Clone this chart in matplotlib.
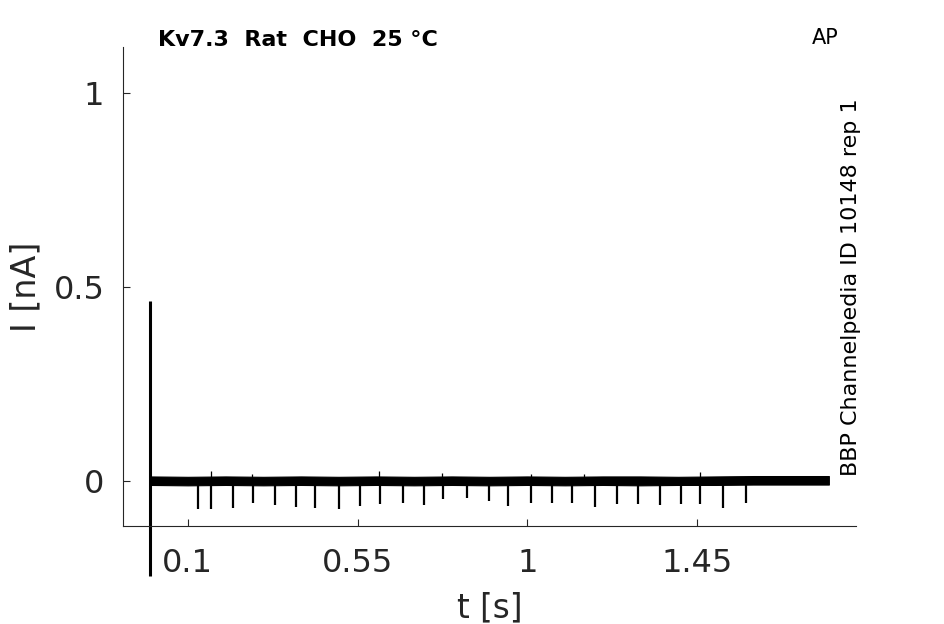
import matplotlib
matplotlib.use("Agg")
import matplotlib.pyplot as plt
import numpy as np

# ---- data ----
x_ticks = [0.1, 0.55, 1.0, 1.45]
x_ticklabels = ["0.1", "0.55", "1", "1.45"]
y_ticks = [0.0, 0.5, 1.0]
y_ticklabels = ["0", "0.5", "1"]

# noise band envelope of the baseline trace (nA)
band_t = [0.0, 0.1, 0.2, 0.3, 0.4, 0.5, 0.6, 0.7, 0.8, 0.9, 1.0, 1.1, 1.2,
          1.3, 1.4, 1.5, 1.6, 1.7, 1.8]
band_hi = [0.011, 0.010, 0.011, 0.010, 0.011, 0.010, 0.011, 0.010, 0.011,
           0.010, 0.011, 0.010, 0.011, 0.011, 0.010, 0.011, 0.012, 0.012, 0.012]
band_lo = [-0.011, -0.012, -0.011, -0.012, -0.011, -0.012, -0.011, -0.012,
           -0.011, -0.012, -0.011, -0.012, -0.011, -0.012, -0.011, -0.011,
           -0.010, -0.010, -0.010]

# downward spikes (time s, depth nA)
spike_t = [0.128, 0.161, 0.219, 0.273, 0.331, 0.386, 0.438, 0.501, 0.557,
           0.610, 0.670, 0.726, 0.777, 0.841, 0.898, 0.949, 1.010, 1.066,
           1.119, 1.181, 1.238, 1.295, 1.353, 1.408, 1.459, 1.520, 1.579]
spike_i = [-0.073, -0.073, -0.070, -0.057, -0.062, -0.067, -0.070, -0.073,
           -0.065, -0.060, -0.057, -0.062, -0.047, -0.044, -0.052, -0.065,
           -0.057, -0.057, -0.057, -0.067, -0.060, -0.060, -0.062, -0.060,
           -0.060, -0.070, -0.057]

# small upward spikes
up_t = [0.161, 0.270, 0.607, 0.775, 1.010, 1.150, 1.458]
up_i = [0.026, 0.018, 0.024, 0.020, 0.018, 0.017, 0.022]

# capacitive transient at t = 0
trans_t = 0.0
trans_top = 0.465
trans_bot = -0.246

xlim = (-0.072, 1.872)
ylim = (-0.117, 1.12)

# ---- figure ----
fig = plt.figure(figsize=(9.45, 6.24), dpi=100)
ax = fig.add_axes([123 / 945, 1 - 526 / 624, (856 - 123) / 945, (526 - 47) / 624])

ax.fill_between(band_t, band_lo, band_hi, color="black", lw=0.8, edgecolor="black")
ax.vlines(spike_t, 0, spike_i, color="black", lw=1.6)
ax.vlines(up_t, 0, up_i, color="black", lw=0.9)
ax.vlines([trans_t], trans_bot, trans_top, color="black", lw=2.2, clip_on=False)

ax.set_xlim(*xlim)
ax.set_ylim(*ylim)
ax.set_xticks(x_ticks)
ax.set_xticklabels(x_ticklabels)
ax.set_yticks(y_ticks)
ax.set_yticklabels(y_ticklabels)

for s in ["top", "right"]:
    ax.spines[s].set_visible(False)
for s in ["left", "bottom"]:
    ax.spines[s].set_color("#262626")
    ax.spines[s].set_linewidth(0.8)

ax.tick_params(direction="in", length=5, width=0.8, colors="#262626",
               labelsize=23)
ax.tick_params(axis="x", pad=15.5)
ax.tick_params(axis="y", pad=13.5)

ax.set_xlabel("t [s]", fontsize=23.5, color="#262626", labelpad=9)
ax.set_ylabel("I [nA]", fontsize=24, color="#262626", labelpad=8)

fig.text(158 / 945, 1 - 40 / 624, "Kv7.3  Rat  CHO  25 °C", fontsize=16,
         fontweight="bold", ha="left", va="center")
fig.text(825 / 945, 1 - 38 / 624, "AP", fontsize=15, ha="center", va="center")
fig.text(851 / 945, 1 - 287 / 624, "BBP Channelpedia ID 10148 rep 1",
         fontsize=16, rotation=90, ha="center", va="center")

fig.savefig("out.png", dpi=100)
